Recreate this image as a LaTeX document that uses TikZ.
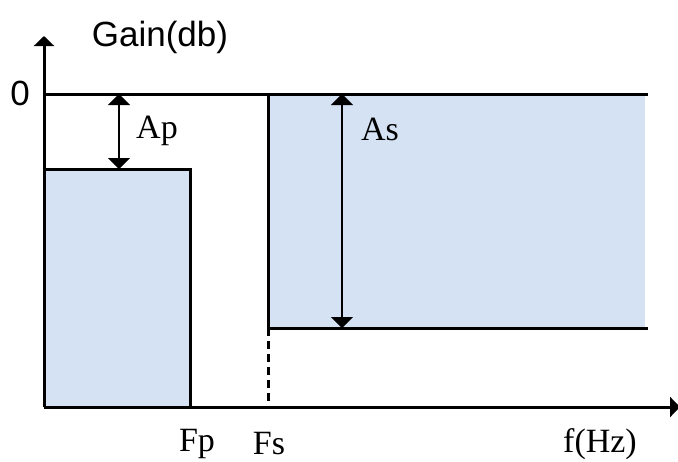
\documentclass[tikz,border=0pt]{standalone}
\usepackage{fontspec}
\setmainfont{Liberation Serif}
\setsansfont{Liberation Sans}
\usetikzlibrary{arrows.meta}
\definecolor{bandblue}{RGB}{212,226,244}
\tikzset{
  axisline/.style={line width=3pt, -{Triangle[width=20pt,length=10pt]}},
  edgeline/.style={line width=3pt},
  dimline/.style={line width=2pt, {Triangle[width=22pt,length=11pt]}-{Triangle[width=22pt,length=11pt]}},
  seriflabel/.style={font=\fontsize{34}{34}\selectfont, inner sep=0pt},
  sanslabel/.style={font=\sffamily\fontsize{35}{35}\selectfont, inner sep=0pt},
}
\begin{document}
\begin{tikzpicture}[x=1pt,y=-1pt]
\useasboundingbox (0,0) rectangle (678,461);
% coordinates
\coordinate (O) at (44,407);
\coordinate (Ytop) at (44,36);
\coordinate (Xend) at (680,407);
\coordinate (Z0) at (44,94);
\coordinate (Zend) at (648,94);
\coordinate (P1) at (44,169);
\coordinate (P2) at (190,169);
\coordinate (P3) at (190,407);
\coordinate (S1) at (268,94);
\coordinate (S2) at (268,328);
\coordinate (S3) at (648,328);
\coordinate (S4) at (268,407);
\coordinate (ApT) at (119,94);
\coordinate (ApB) at (119,169);
\coordinate (AsT) at (342,94);
\coordinate (AsB) at (342,328);
% fills
\fill[bandblue] (44,169) rectangle (190,407);
\fill[bandblue] (268,94) rectangle (645,328);
% lines
\draw[edgeline] (Z0) -- (Zend);
\draw[edgeline] (P1) -- (P2) -- (P3);
\draw[edgeline] (S1) -- (S2) -- (S3);
\draw[edgeline, dash pattern=on 8pt off 5pt] (S2) -- (S4);
\draw[axisline] (O) -- (Ytop);
\draw[axisline] (O) -- (Xend);
\draw[dimline] (ApT) -- (ApB);
\draw[dimline] (AsT) -- (AsB);
% labels
\node[sanslabel] (gain) at (160,37) {Gain(db)};
\node[sanslabel] (zero) at (20,93) {0};
\node[seriflabel] (ap) at (157,131) {Ap};
\node[seriflabel] (as) at (380,129) {As};
\node[seriflabel] (fp) at (197,444) {Fp};
\node[seriflabel] (fs) at (269,444) {Fs};
\node[seriflabel] (fhz) at (600,444) {f(Hz)};
\end{tikzpicture}
\end{document}
